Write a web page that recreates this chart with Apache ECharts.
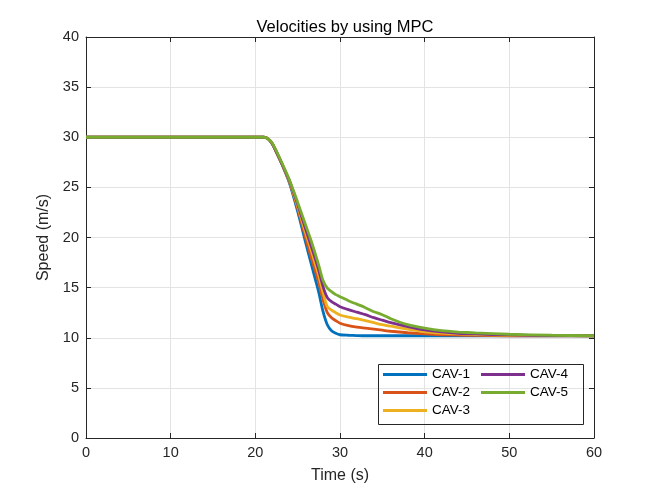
<!DOCTYPE html>
<html>
<head>
<meta charset="utf-8">
<script src="https://cdn.jsdelivr.net/npm/echarts@6/dist/echarts.min.js"></script>
<style>
html,body{margin:0;padding:0;background:#fff;}
#c{width:657px;height:492px;}
</style>
</head>
<body>
<div id="c"></div>
<script>
const time = [0, 21, 21.5, 22, 22.5, 23, 24, 25, 26, 26.5, 27, 27.5, 28, 28.5, 29, 29.5, 30, 31, 32, 33, 34, 35, 36, 38, 40, 42, 44, 46, 50, 55, 60];
const cav1 = [30, 30, 29.85, 29.35, 28.5, 27.6, 25.5, 22.6, 19.3, 17.7, 16.1, 14.5, 12.6, 11.3, 10.7, 10.45, 10.3, 10.25, 10.22, 10.2, 10.2, 10.2, 10.2, 10.2, 10.2, 10.2, 10.2, 10.2, 10.2, 10.2, 10.2];
const cav2 = [30, 30, 29.85, 29.35, 28.5, 27.6, 25.6, 22.9, 19.8, 18.3, 16.9, 15.5, 13.8, 12.5, 12.0, 11.7, 11.45, 11.2, 11.05, 10.95, 10.85, 10.75, 10.65, 10.5, 10.38, 10.3, 10.26, 10.23, 10.2, 10.2, 10.2];
const cav3 = [30, 30, 29.85, 29.35, 28.5, 27.6, 25.65, 23.1, 20.3, 19.0, 17.6, 16.2, 14.5, 13.1, 12.75, 12.5, 12.27, 12.05, 11.9, 11.7, 11.5, 11.3, 11.15, 10.85, 10.6, 10.47, 10.38, 10.32, 10.25, 10.22, 10.2];
const cav4 = [30, 30, 29.85, 29.35, 28.5, 27.6, 25.7, 23.3, 20.7, 19.4, 18.1, 16.7, 15.1, 14.0, 13.6, 13.35, 13.1, 12.8, 12.55, 12.3, 12.0, 11.75, 11.5, 11.1, 10.78, 10.58, 10.45, 10.38, 10.28, 10.22, 10.2];
const cav5 = [30, 30, 29.85, 29.4, 28.6, 27.7, 25.8, 23.5, 21.1, 19.9, 18.6, 17.2, 15.7, 14.95, 14.6, 14.3, 14.1, 13.7, 13.35, 13.0, 12.6, 12.3, 11.9, 11.3, 10.95, 10.7, 10.57, 10.48, 10.35, 10.25, 10.2];
const names = ['CAV-1', 'CAV-2', 'CAV-3', 'CAV-4', 'CAV-5'];
const colors = ['#0072BD', '#D95319', '#EDB120', '#7E2F8E', '#77AC30'];
const xTicks = [0, 10, 20, 30, 40, 50, 60];
const yTicks = [0, 5, 10, 15, 20, 25, 30, 35, 40];

const allSeries = [cav1, cav2, cav3, cav4, cav5];
const font = 'Liberation Sans, Arial, Helvetica, sans-serif';
const axisCol = '#262626';

const chart = echarts.init(document.getElementById('c'), null, {renderer: 'canvas'});
const legendBase = {
  orient: 'vertical',
  icon: 'rect',
  itemWidth: 44,
  itemHeight: 3,
  itemGap: 3,
  textStyle: {fontFamily: font, fontSize: 13.5, color: '#000', lineHeight: 15, padding: [0, 0, 0, 0]},
  padding: 0
};
chart.setOption({
  backgroundColor: '#fff',
  animation: false,
  color: colors,
  title: {
    text: 'Velocities by using MPC',
    left: 340, top: 14, textAlign: 'center',
    textStyle: {fontFamily: font, fontSize: 16.5, fontWeight: 'normal', color: '#000'}
  },
  legend: [
    Object.assign({}, legendBase, {data: names.slice(0, 3), left: 383, top: 367}),
    Object.assign({}, legendBase, {data: names.slice(3), left: 481, top: 367})
  ],
  graphic: [{
    type: 'rect', shape: {x: 378.5, y: 364.5, width: 205, height: 60},
    style: {fill: 'rgba(255,255,255,0)', stroke: '#262626', lineWidth: 1}, z: 100, silent: true
  }],
  grid: {left: 86, right: 63, top: 37, bottom: 54, containLabel: false},
  xAxis: [{
    type: 'value', min: xTicks[0], max: xTicks[xTicks.length - 1], interval: 10,
    name: 'Time (s)', nameLocation: 'middle', nameGap: 30,
    nameTextStyle: {fontFamily: font, fontSize: 16, color: axisCol},
    axisLine: {show: true, onZero: false, lineStyle: {color: axisCol, width: 1}},
    axisTick: {show: true, inside: true, length: 5, lineStyle: {color: axisCol}},
    axisLabel: {fontFamily: font, fontSize: 14.5, color: axisCol, margin: 7},
    splitLine: {show: true, lineStyle: {color: '#e3e3e3', width: 1}}
  }, {
    type: 'value', position: 'top', min: 0, max: 60, interval: 10,
    axisLine: {show: true, onZero: false, lineStyle: {color: axisCol, width: 1}},
    axisTick: {show: true, inside: true, length: 5, lineStyle: {color: axisCol}},
    axisLabel: {show: false}, splitLine: {show: false}
  }],
  yAxis: [{
    type: 'value', min: yTicks[0], max: yTicks[yTicks.length - 1], interval: 5,
    name: 'Speed (m/s)', nameLocation: 'middle', nameGap: 34, nameRotate: 90,
    nameTextStyle: {fontFamily: font, fontSize: 16, color: axisCol},
    axisLine: {show: true, onZero: false, lineStyle: {color: axisCol, width: 1}},
    axisTick: {show: true, inside: true, length: 5, lineStyle: {color: axisCol}},
    axisLabel: {fontFamily: font, fontSize: 14.5, color: axisCol, margin: 7},
    splitLine: {show: true, lineStyle: {color: '#e3e3e3', width: 1}}
  }, {
    type: 'value', position: 'right', min: 0, max: 40, interval: 5,
    axisLine: {show: true, onZero: false, lineStyle: {color: axisCol, width: 1}},
    axisTick: {show: true, inside: true, length: 5, lineStyle: {color: axisCol}},
    axisLabel: {show: false}, splitLine: {show: false}
  }],
  series: allSeries.map((s, i) => ({
    name: names[i], type: 'line', xAxisIndex: 0, yAxisIndex: 0,
    data: time.map((t, j) => [t, s[j]]),
    showSymbol: false, symbol: 'none',
    smooth: 0.25,
    lineStyle: {width: 2.8, color: colors[i]},
    itemStyle: {color: colors[i]},
    clip: true
  }))
});
</script>
</body>
</html>
